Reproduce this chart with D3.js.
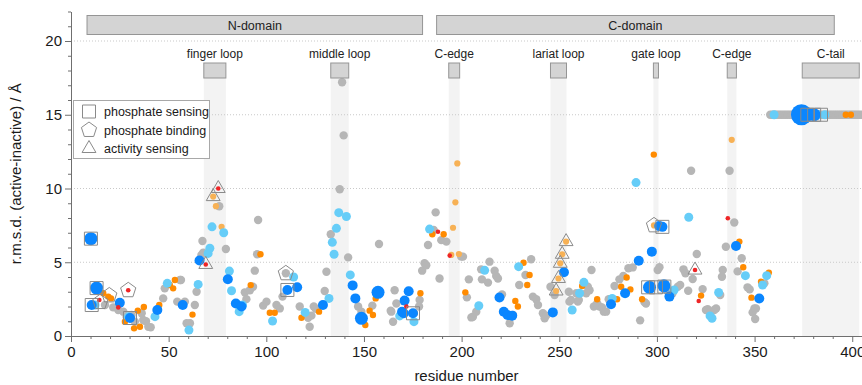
<!DOCTYPE html>
<html>
<head>
<meta charset="utf-8">
<script src="https://cdn.jsdelivr.net/npm/d3@7"></script>
<style>
  body { margin: 0; background: #fff; }
  svg { display: block; font-family: "Liberation Sans", Arial, Helvetica, sans-serif; }
</style>
</head>
<body>
<div id="chart"></div>
<script>
// structural regions (residue ranges)
const domains = [
  { name: "N-domain", start: 8.2, end: 180 },
  { name: "C-domain", start: 187.2, end: 390.8 }
];
const loops = [
  { name: "finger loop", start: 68, end: 79.3 },
  { name: "middle loop", start: 133, end: 142.2 },
  { name: "C-edge", start: 193.4, end: 199 },
  { name: "lariat loop", start: 245.5, end: 253.7 },
  { name: "gate loop", start: 298.2, end: 300.8 },
  { name: "C-edge", start: 336, end: 340.7 },
  { name: "C-tail", start: 374.4, end: 403.6 }
];

const xTicks = [0, 50, 100, 150, 200, 250, 300, 350, 400];
const yTicks = [0, 5, 10, 15, 20];

// [residue, rmsd]
const grayPts = [
  [17.4,2.1],[21.6,1.94],[24.2,1.76],[26.8,1.65],[28.5,1.31],[31,1.42],[32.7,0.97],[36.2,1.54],[37,1.08],[38.4,1.0],
  [39.6,0.63],[40.8,0.59],[47.2,2.55],[48,3.23],[54.4,2.33],[55.8,3.8],[56.3,3.8],[58.3,2.33],[59.2,0.86],[60.9,0.86],
  [63.4,2.1],[64.3,3.0],[66.8,5.5],[67.3,6.44],[67.7,5.65],[75.9,8.8],[79.3,5.9],
  [89,2.96],[89.8,2.5],[91.6,3.1],[93.2,3.34],[94.1,4.43],[95.3,5.54],[95.8,7.86],[98.4,2.06],[100.1,2.33],[105.2,2.1],
  [106.9,1.87],[108.3,2.67],[110,4.25],[117.1,2.0],[121.4,1.24],[122.2,0.63],[123.1,1.38],[124.3,2.0],[125.3,1.85],
  [129.9,3.05],[130.8,4.36],[133,6.9],[137.6,9.95],[139.6,13.6],[138.8,17.2],[141.9,5.33],[147,2.0],[148.7,1.65],
  [154.3,2.06],[157.7,6.24],[163.7,1.72],[164,1.65],[164.9,0.97],[165.7,3.1],[166.6,2.2],[178.2,2.0],[178.5,2.44],
  [179.8,4.43],[181,4.93],[181.9,4.8],[182.8,6.17],[185.7,7.19],[186.7,8.38],[188.7,3.9],[189.6,6.5],[192.2,6.4],
  [199.8,5.38],[200.7,5.38],[202.7,2.62],[203.7,3.84],[205,1.26],[205.8,1.31],[207.5,1.65],[210,4.52],[210.4,3.84],
  [213.5,3.62],[214.3,5.04],[216.9,4.43],[217.7,4.07],[218.6,3.9],[220.7,2.82],[224.6,0.86],[226.3,1.42],[229.5,3.46],
  [232.7,4.14],[235.6,5.2],[236.5,2.67],[238.2,2.49],[239.1,2.1],[241.6,1.54],[242.5,1.2],[243.3,1.38],[245.5,3.34],
  [247.6,2.78],[254.9,3.0],[255.2,2.33],[256,2.44],[258.7,2.9],[259.5,2.33],[260,2.44],[263.8,2.9],[264.6,3.34],
  [265.5,3.1],[266.5,4.47],[267.7,2.0],[269.4,2.2],[270.6,2.0],[271.9,1.94],[272.8,1.65],[274,1.65],[275.3,2.49],
  [278.3,3.39],[280.8,3.84],[282.8,4.07],[285.4,4.59],[287.6,4.65],[291.4,1.06],[293.6,2.3],[294.4,2.2],
  [300.4,4.47],[301.3,4.66],[304.7,3.12],[308,2.9],[310.7,3.34],[311.9,3.46],[313.6,4.52],[314.6,4.25],[316,3.07],
  [317.5,11.2],[318.3,3.86],[320.4,5.56],[323.4,3.18],[325.1,1.76],[326,1.81],[329.4,1.76],[330.3,1.87],[332.4,2.78],
  [333.3,4.02],[333.7,4.47],[335.3,6.05],[337.2,11.2],[339.6,7.7],[341.3,4.38],[343.4,5.27],[346.4,3.3],[347.5,3.16],
  [349,1.6],[349.9,1.87],[350.7,1.87],[350.3,1.15],[355,3.57],
  // C-tail residues, plotted at 15 Å
  [358,15],[359,15],[360,15],[361,15],[362,15],[363,15],[364,15],[365,15],[366,15],[367,15],[368,15],[369,15],
  [370,15],[371,15],[372,15],[373,15],[374,15],[375,15],[376,15],[377,15],[378,15],[379,15],[380,15],[381,15],
  [382,15],[383,15],[384,15],[385,15],[386,15],[387,15],[388,15],[389,15],[390,15],[391,15],[392,15],[393,15],
  [394,15],[395,15],[396,15],[397,15],[398,15],[399,15],[400,15],[401,15],[402,15],[403,15],[404,15],[405,15]
];
const lightOrangePts = [
  [72.8,9.45],[74.2,8.8],[77.1,7.4],[194.7,5.5],[195.6,7.34],[196.8,9.06],[197.8,11.7],[198.6,5.56],
  [248.4,3.05],[249.6,3.9],[250.5,4.93],[251.5,5.54],[253.5,6.4],[298.5,7.5],[338.3,13.3]
];
const orangePts = [
  [16.5,2.9],[19.1,2.67],[20.5,2.55],[27.6,0.97],[32.3,0.52],[34.2,1.72],[35.3,0.63],[37.3,1.97],[45.2,2.1],
  [50.6,3.46],[52.3,3.23],[53.2,3.8],[62.2,1.45],[92,3.45],[97,5.54],[101.8,1.58],[104.3,1.58],[118,1.24],[127,1.65],
  [150.7,0.75],[152.9,1.72],[154.6,1.42],[156,2.55],[176,1.54],[178.9,2.9],[185,6.9],[190.8,6.9],[201.9,2.96],
  [227.5,2.38],[228.8,2.0],[231.7,4.97],[233.6,3.46],[234.8,4.14],[261.7,3.39],[269.4,2.49],[279.6,2.49],[281.7,3.34],
  [284.5,3.97],[286.4,3.16],[292.4,2.49],[298.4,12.3],[304.5,3.3],[322.6,2.74],[342.2,6.4],[344.2,4.66],[348.4,2.6],
  [353.3,3.68],[357.3,4.3],[396.7,15],[399.3,15]
];
const lightBluePts = [
  [12.3,2.1],[29.4,1.3],[43,1.31],[49.3,3.57],[60.4,0.4],[65.1,3.5],[70.2,5.6],[71.1,5.95],[72.2,7.4],[78.2,7.0],
  [81.1,4.4],[82.2,3.07],[86.1,1.65],[87.8,2.1],[103.2,1.02],[114,4.0],[119.9,1.6],[132.1,2.55],[133.8,6.35],
  [134.7,5.54],[135.9,7.3],[137.1,8.36],[141,8.1],[143,4.14],[168.3,1.36],[175.6,0.97],[183.6,7.25],[208.8,2.05],
  [211.8,4.45],[229.2,4.7],[256.6,1.76],[260.4,2.9],[262.6,3.64],[277.1,2.55],[289.3,10.4],[308.8,3.12],[316.3,8.05],
  [327.2,1.36],[328.2,1.2],[331.6,2.95],[345.3,4.09],[354.1,3.46],[356.2,4.09],[360,15],[382.5,15],[386,15]
];
const bluePts = [
  [10.6,2.1],[25,2.25],[30.2,1.22],[44.2,1.76],[57.2,2.1],[65.8,5.12],[80.3,3.85],[84.4,2.2],[87.3,2.0],[110.8,3.12],
  [115.8,3.3],[129,2.1],[144.2,3.43],[145.6,2.55],[169.5,1.65],[170.4,1.54],[170.8,2.4],[172.9,3.03],[175.1,1.54],
  [219.4,2.61],[221.6,1.65],[223.5,1.42],[225.9,1.38],[246.7,1.6],[252.4,4.32],[276.5,2.15],[283.7,2.9],[290.7,5.1],
  [297.4,5.72],[301.2,7.45],[302.8,7.4],[306.4,2.67],[340.5,6.1],[352.4,2.54]
];
const bigBluePts = [
  [10.2,6.6],[13.1,3.25],[148.7,1.2],[157.2,2.96],[296.2,3.3],[303.6,3.4],[377.5,15],[380.5,15]
];
const hugeBluePts = [[374,15]];
const redPts = [
  [14.5,2.44],[24.2,1.94],[29.3,3.1],[69,4.85],[75.4,10.0],[171.7,2.0],[187.9,7.07],[193.9,5.45],[319.5,4.47],
  [321.4,2.37],[336.3,7.98]
];

// residue classes (open outline markers)
const sensingPts = [
  [10.2,6.6],[13.1,3.25],[10.6,2.1],[30.2,1.22],[110.8,3.12],[175.1,1.54],[295.5,3.3],[299.5,3.3],[303.8,3.35],
  [302.8,7.4],[377,15],[380.5,15],[384,15]
];
const bindingPts = [[15,2.3],[19.6,2.75],[29.3,3.1],[110,4.25],[298.5,7.5]];
const activityPts = [
  [69,4.85],[72.8,9.45],[75.4,10.0],[248.4,3.05],[249.6,3.9],[250.5,4.93],[251.5,5.54],[253.5,6.4],[319.5,4.47]
];
const legendItems = [
  { label: "phosphate sensing", shape: "square" },
  { label: "phosphate binding", shape: "pentagon" },
  { label: "activity sensing", shape: "triangle" }
];

const width = 862, height = 385;
const svg = d3.select("#chart").append("svg")
  .attr("width", width)
  .attr("height", height);

const x = d3.scaleLinear().domain([0, 405]).range([71, 862]);
const y = d3.scaleLinear().domain([0, 22]).range([336, 11.5]);

const loopTop = 63, loopH = 15;

// shaded loop columns
svg.append("g")
  .selectAll("rect")
  .data(loops)
  .join("rect")
  .attr("x", d => x(d.start))
  .attr("y", loopTop + loopH)
  .attr("width", d => x(d.end) - x(d.start))
  .attr("height", y(0) - loopTop - loopH)
  .attr("fill", "#f3f3f3");

// dotted grid
svg.append("g")
  .selectAll("line")
  .data(yTicks.filter(d => d > 0))
  .join("line")
  .attr("x1", x(0))
  .attr("x2", width)
  .attr("y1", d => y(d))
  .attr("y2", d => y(d))
  .attr("stroke", "#c9c9c9")
  .attr("stroke-dasharray", "1,2");

function dots(data, color, r) {
  svg.append("g")
    .selectAll("circle")
    .data(data)
    .join("circle")
    .attr("cx", d => x(d[0]))
    .attr("cy", d => y(d[1]))
    .attr("r", r)
    .attr("fill", color);
}

dots(grayPts, "#b6b6b6", 4.2);
dots(lightOrangePts, "#f7b155", 3.1);
dots(orangePts, "#ff8b00", 3.2);
dots(lightBluePts, "#66cdf8", 4.5);
dots(bluePts, "#0a86ff", 5);
dots(bigBluePts, "#0a86ff", 6.5);
dots(hugeBluePts, "#0a86ff", 10.5);
dots(redPts, "#ee2526", 2.3);

function polygon(n, R) {
  const pts = d3.range(n).map(i => {
    const a = -Math.PI / 2 + i * 2 * Math.PI / n;
    return [R * Math.cos(a), R * Math.sin(a)];
  });
  return "M" + pts.join("L") + "Z";
}
const shapes = {
  square: "M-6.5,-6.5H6.5V6.5H-6.5Z",
  pentagon: polygon(5, 8),
  triangle: polygon(3, 8)
};

function outlines(data, shape) {
  svg.append("g")
    .selectAll("path")
    .data(data)
    .join("path")
    .attr("transform", d => `translate(${x(d[0])},${y(d[1])})`)
    .attr("d", shapes[shape])
    .attr("fill", "none")
    .attr("stroke", "#8a8a8a")
    .attr("stroke-width", 1);
}
outlines(sensingPts, "square");
outlines(bindingPts, "pentagon");
outlines(activityPts, "triangle");

// domain bars
const dom = svg.append("g");
dom.selectAll("rect")
  .data(domains)
  .join("rect")
  .attr("x", d => x(d.start))
  .attr("y", 15.5)
  .attr("width", d => x(d.end) - x(d.start))
  .attr("height", 19)
  .attr("fill", "#d4d4d4")
  .attr("stroke", "#959595");
dom.selectAll("text")
  .data(domains)
  .join("text")
  .attr("x", d => (x(d.start) + x(d.end)) / 2)
  .attr("y", 29.5)
  .attr("text-anchor", "middle")
  .attr("font-size", 12.5)
  .attr("fill", "#222")
  .text(d => d.name);

// loop boxes and labels
const lp = svg.append("g");
lp.selectAll("rect")
  .data(loops)
  .join("rect")
  .attr("x", d => x(d.start))
  .attr("y", loopTop)
  .attr("width", d => x(d.end) - x(d.start))
  .attr("height", loopH)
  .attr("fill", "#d4d4d4")
  .attr("stroke", "#959595");
lp.selectAll("text")
  .data(loops)
  .join("text")
  .attr("x", d => (x(d.start) + x(d.end)) / 2)
  .attr("y", 58)
  .attr("text-anchor", "middle")
  .attr("font-size", 12)
  .attr("fill", "#222")
  .text(d => d.name);

// axes
const yAxis = svg.append("g").attr("transform", `translate(${x(0)},0)`)
  .call(d3.axisLeft(y).tickValues(yTicks).tickSize(6).tickSizeOuter(0).tickPadding(3));
svg.append("g").attr("transform", `translate(${x(0)},0)`)
  .call(d3.axisLeft(y).tickValues(d3.range(1, 23).filter(v => v % 5 !== 0)).tickSize(3).tickFormat(""))
  .call(g => g.select(".domain").remove());
const xAxis = svg.append("g").attr("transform", `translate(0,${y(0)})`)
  .call(d3.axisBottom(x).tickValues(xTicks).tickSize(6).tickSizeOuter(0).tickPadding(4));
svg.append("g").attr("transform", `translate(0,${y(0)})`)
  .call(d3.axisBottom(x).tickValues(d3.range(10, 405, 10).filter(v => v % 50 !== 0)).tickSize(3).tickFormat(""))
  .call(g => g.select(".domain").remove());

svg.selectAll(".domain, .tick line").attr("stroke", "#6f6f6f");
[yAxis, xAxis].forEach(g => g.selectAll("text")
  .attr("font-size", 15)
  .attr("fill", "#1a1a1a")
  .attr("font-family", "'Liberation Sans', Arial, sans-serif"));

svg.append("text")
  .attr("transform", `translate(21,${(y(0) + y(22)) / 2}) rotate(-90)`)
  .attr("text-anchor", "middle")
  .attr("font-size", 15)
  .attr("fill", "#1a1a1a")
  .text("r.m.s.d. (active-inactive) / Å");
svg.append("text")
  .attr("x", (x(0) + width) / 2)
  .attr("y", 381)
  .attr("text-anchor", "middle")
  .attr("font-size", 15)
  .attr("fill", "#1a1a1a")
  .text("residue number");

// legend
const lg = svg.append("g").attr("transform", "translate(73.5,100.5)");
lg.append("rect")
  .attr("width", 136)
  .attr("height", 58)
  .attr("fill", "#fff")
  .attr("stroke", "#a8a8a8");
const li = lg.selectAll("g.item")
  .data(legendItems)
  .join("g")
  .attr("class", "item")
  .attr("transform", (d, i) => `translate(15.5,${11 + i * 18.5})`);
li.append("path")
  .attr("d", d => shapes[d.shape])
  .attr("fill", "none")
  .attr("stroke", "#8a8a8a");
li.append("text")
  .attr("x", 15)
  .attr("y", 4.5)
  .attr("font-size", 12.5)
  .attr("fill", "#1a1a1a")
  .text(d => d.label);
</script>
</body>
</html>
